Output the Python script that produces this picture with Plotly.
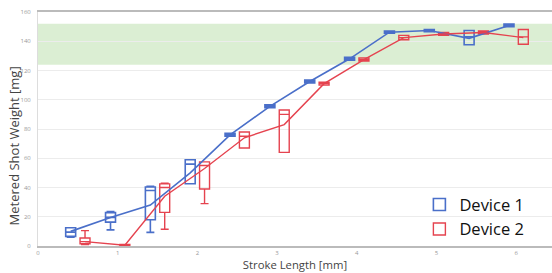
import plotly.graph_objects as go

stroke = [0.5, 1, 1.5, 2, 2.5, 3, 3.5, 4, 4.5, 5, 5.5, 6]

# Device 1 box statistics
d1_low = [6, 11, 9.3, 42.6, 75, 94.5, 111.5, 127, 145.5, 146.5, 137.6, 150]
d1_q1 = [6.6, 16.3, 18, 42.6, 75, 94.5, 111.5, 127, 145.5, 146.5, 137.6, 150]
d1_med = [9.5, 19.6, 38, 56, 76, 95.5, 112.5, 128, 146.2, 147.3, 143, 150.8]
d1_q3 = [12.5, 22.8, 40.3, 59, 77, 96.5, 113.5, 129, 147, 148, 147.3, 151.8]
d1_high = [12.5, 23.5, 40.8, 59, 77, 96.5, 113.5, 129, 147, 148, 147.3, 151.8]
d1_mean = [10, 19.5, 28, 50, 76, 95.5, 112.5, 128, 146.2, 147.3, 142, 150.8]

# Device 2 box statistics
d2_low = [1, 0, 11.5, 29, 67, 64, 110, 126.5, 141, 144, 145, 138]
d2_q1 = [1.5, 0, 23, 39, 67, 64, 110, 126.5, 141, 144, 145, 138]
d2_med = [3, 0.5, 40, 55, 75, 90, 111, 127.4, 142.5, 145, 146, 143]
d2_q3 = [5.5, 1, 42.5, 57.5, 78, 93, 112, 128.5, 144, 146, 147, 148]
d2_high = [10.5, 1, 43, 57.5, 78, 93, 112, 128.5, 144, 146, 147, 148]
d2_mean = [3, 0.5, 34, 53, 74, 83, 111, 127.4, 142.5, 145, 146, 142.5]

target_band = [124, 152]
y_ticks = [0, 20, 40, 60, 80, 100, 120, 140, 160]
x_ticks = [0, 1, 2, 3, 4, 5, 6]

BLUE = "#4a6fc9"
RED = "#e5434f"
offset = 0.09

x1 = [s - offset for s in stroke]
x2 = [s + offset for s in stroke]

fig = go.Figure()

fig.add_trace(go.Scatter(x=x1, y=d1_mean, mode="lines", line=dict(color=BLUE, width=1.6),
                         showlegend=False, hoverinfo="skip"))
fig.add_trace(go.Scatter(x=x2, y=d2_mean, mode="lines", line=dict(color=RED, width=1.4),
                         showlegend=False, hoverinfo="skip"))

fig.add_trace(go.Box(name="Device 1", x=x1, lowerfence=d1_low, q1=d1_q1, median=d1_med,
                     q3=d1_q3, upperfence=d1_high, width=0.125, whiskerwidth=0.8,
                     line=dict(color=BLUE, width=1.6), fillcolor="rgba(255,255,255,0)",
                     boxpoints=False))
fig.add_trace(go.Box(name="Device 2", x=x2, lowerfence=d2_low, q1=d2_q1, median=d2_med,
                     q3=d2_q3, upperfence=d2_high, width=0.125, whiskerwidth=0.8,
                     line=dict(color=RED, width=1.4), fillcolor="rgba(255,255,255,0)",
                     boxpoints=False))

fig.add_shape(type="rect", xref="paper", x0=0, x1=1, yref="y", y0=target_band[0], y1=target_band[1],
              fillcolor="rgba(160,210,140,0.38)", line=dict(width=0), layer="below")

fig.add_annotation(text="Metered Shot Weight [mg]", textangle=-90, xref="paper", yref="paper",
                   x=-0.0467, y=0.43, xanchor="center", yanchor="middle", showarrow=False,
                   font=dict(size=13, color="#444", family="Open Sans"))

fig.update_layout(
    width=552, height=273,
    margin=dict(l=38, r=0, t=12, b=27),
    paper_bgcolor="white", plot_bgcolor="white",
    font=dict(family="Open Sans", color="#444"),
    boxmode="overlay",
    legend=dict(x=0.742, y=0.251, xanchor="left", yanchor="top",
                font=dict(size=16.5, color="#111", family="Open Sans"),
                bgcolor="rgba(255,255,255,0)", tracegroupgap=0, itemwidth=30),
    xaxis=dict(range=[0, 6.45], tickvals=x_ticks, ticktext=[str(v) for v in x_ticks],
               tickfont=dict(size=6, color="#999"), showgrid=False, zeroline=False,
               showline=True, linecolor="#bbb", linewidth=1.5, mirror=True, automargin=False,
               title=dict(text="Stroke Length [mm]", font=dict(size=11.3, color="#444"), standoff=2)),
    yaxis=dict(range=[0, 160], tickvals=y_ticks, ticktext=[str(v) for v in y_ticks],
               tickfont=dict(size=6, color="#999"), showgrid=True, gridcolor="#ececec",
               zeroline=False, showline=True, linecolor="#ddd", ticklabelstandoff=5, automargin=False),
)

fig.write_html("out.html", config={"displayModeBar": False},
               post_script="document.body.style.margin='0';")
